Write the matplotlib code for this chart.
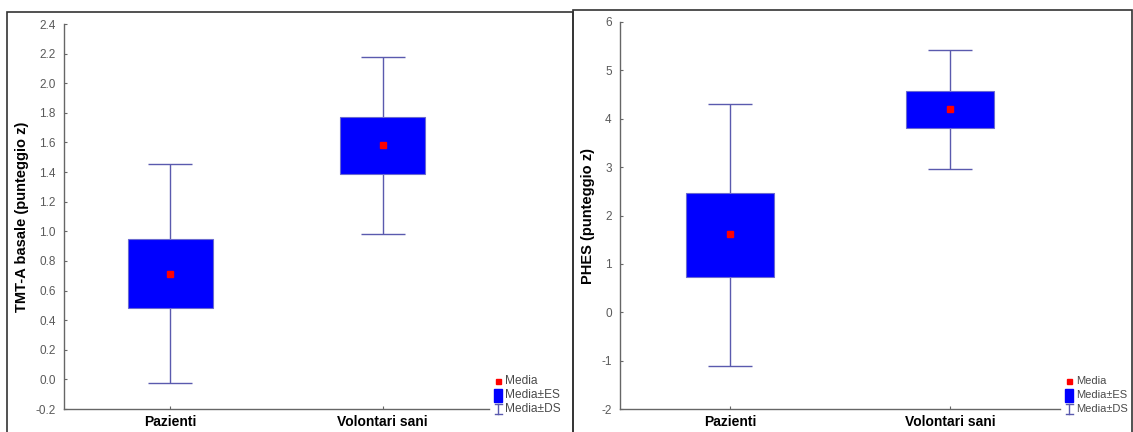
import matplotlib
matplotlib.use("Agg")
import matplotlib.pyplot as plt
from matplotlib.patches import Rectangle
from matplotlib.lines import Line2D

plt.rcParams['font.family'] = ['Liberation Sans', 'DejaVu Sans']

# Dati
gruppi = ['Pazienti', 'Volontari sani']

tmt_media = [0.715, 1.58]
tmt_es_lo = [0.48, 1.39]
tmt_es_hi = [0.945, 1.77]
tmt_ds_lo = [-0.022, 0.98]
tmt_ds_hi = [1.452, 2.18]
tmt_ticks = [-0.2, 0.0, 0.2, 0.4, 0.6, 0.8, 1.0, 1.2, 1.4, 1.6, 1.8, 2.0, 2.2, 2.4]

phes_media = [1.61, 4.21]
phes_es_lo = [0.73, 3.81]
phes_es_hi = [2.46, 4.58]
phes_ds_lo = [-1.11, 2.97]
phes_ds_hi = [4.31, 5.42]
phes_ticks = [-2, -1, 0, 1, 2, 3, 4, 5, 6]

W, H = 1133, 432
fig = plt.figure(figsize=(W / 100, H / 100), dpi=100)

# cornici dei due pannelli (coordinate in pixel)
def px_rect(x0, y0, x1, y1):
    return [x0 / W, 1 - y1 / H, (x1 - x0) / W, (y1 - y0) / H]

for x0, y0, x1 in [(7, 12, 573), (573, 10, 1132)]:
    r = Rectangle((x0 / W, 1 - 433 / H), (x1 - x0) / W, (433 - y0) / H,
                  transform=fig.transFigure, fill=False, edgecolor='#333333',
                  linewidth=1.2, clip_on=False)
    fig.add_artist(r)

spine_col = '#666666'
whisk_col = '#5a5aae'


def pannello(rect, media, es_lo, es_hi, ds_lo, ds_hi, ticks, fmt, ylabel, label_px, leg_x, leg_fs):
    ax = fig.add_axes(px_rect(*rect))
    x = [1, 2]
    err = [[m - lo for m, lo in zip(media, ds_lo)], [hi - m for m, hi in zip(media, ds_hi)]]
    ax.errorbar(x, media, yerr=err, fmt='none', ecolor=whisk_col, elinewidth=1.0,
                capsize=15.5, capthick=1.0, zorder=1)
    ax.bar(x, [h - l for h, l in zip(es_hi, es_lo)], bottom=es_lo, width=0.4,
           color='#0000ff', edgecolor='#6a6ad0', linewidth=0.8, zorder=2)
    ax.plot(x, media, 's', color='#ff0000', markersize=4.4, zorder=3)

    ax.set_xlim(0.5, 2.5)
    ax.set_ylim(ticks[0], ticks[-1])
    ax.set_yticks(ticks)
    ax.set_yticklabels([fmt.format(t) for t in ticks])
    ax.set_xticks(x)
    ax.set_xticklabels(gruppi, fontweight='bold', fontsize=10)
    for s in ['top', 'right']:
        ax.spines[s].set_visible(False)
    for s in ['left', 'bottom']:
        ax.spines[s].set_color(spine_col)
        ax.spines[s].set_linewidth(1.0)
    ax.tick_params(axis='both', direction='in', length=2, color=spine_col, width=0.8)
    ax.tick_params(axis='y', labelsize=8.5, labelcolor='#5a5a5a', pad=6)
    ax.tick_params(axis='x', pad=4)
    fig.text(label_px / W, 1 - (rect[1] + rect[3]) / 2 / H, ylabel, fontweight='bold',
             fontsize=10.5, rotation=90, ha='center', va='center')

    # legenda disegnata a mano
    ys = [381, 395, 409]
    fig.add_artist(Rectangle(((leg_x - 2.5) / W, 1 - (ys[0] + 2.5) / H), 5 / W, 5 / H,
                             transform=fig.transFigure, color='#ff0000'))
    fig.add_artist(Rectangle(((leg_x - 4) / W, 1 - (ys[1] + 6.5) / H), 8 / W, 13 / H,
                             transform=fig.transFigure, color='#0000ff'))
    lx, ly0, ly1 = leg_x, ys[2] - 5, ys[2] + 5
    fig.add_artist(Line2D([lx / W] * 2, [1 - ly0 / H, 1 - ly1 / H], transform=fig.transFigure,
                          color=whisk_col, linewidth=1))
    for yy in (ly0, ly1):
        fig.add_artist(Line2D([(lx - 3.5) / W, (lx + 3.5) / W], [1 - yy / H] * 2,
                              transform=fig.transFigure, color=whisk_col, linewidth=1))
    for yy, t in zip(ys, ['Media', 'Media\u00b1ES', 'Media\u00b1DS']):
        fig.text((leg_x + 7) / W, 1 - yy / H, t, fontsize=leg_fs, color='#4a4a4a', va='center')
    return ax


pannello((64, 24, 489, 409), tmt_media, tmt_es_lo, tmt_es_hi, tmt_ds_lo, tmt_ds_hi,
         tmt_ticks, '{:.1f}', 'TMT-A basale (punteggio z)', 22.5, 498, 8.6)
pannello((620, 22, 1060, 409), phes_media, phes_es_lo, phes_es_hi, phes_ds_lo, phes_ds_hi,
         phes_ticks, '{:.0f}', 'PHES (punteggio z)', 588, 1069, 8.0)

fig.savefig('out.png', dpi=100)
